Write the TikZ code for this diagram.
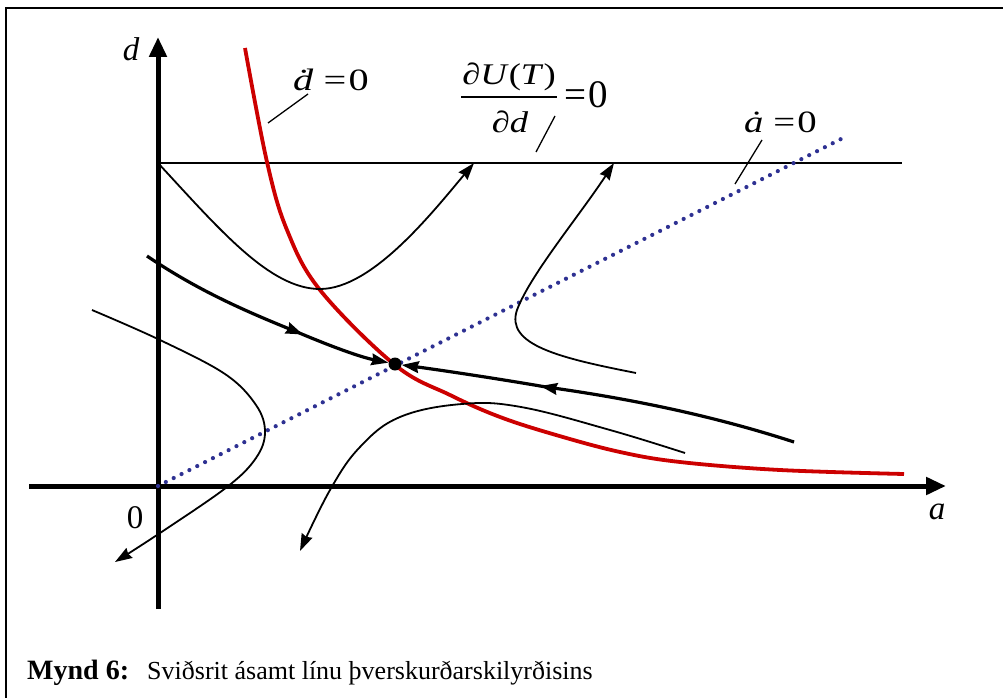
\documentclass[tikz,border=0pt]{standalone}
\usepackage{fontspec}
\setmainfont{Liberation Serif}
\usetikzlibrary{arrows.meta,decorations.markings}
\definecolor{redc}{RGB}{204,0,0}
\definecolor{bluec}{RGB}{46,49,146}
\tikzset{
  tiph/.tip={Stealth[length=17pt,width=11.5pt,inset=1.5pt]},
  midarrow/.style={postaction={decorate}, decoration={markings, mark=at position #1 with {\arrow{tiph}}}}
}
\begin{document}
\begin{tikzpicture}[x=1pt,y=-1pt,
  thinc/.style={line width=1.8pt},
  thickc/.style={line width=3.2pt},
  axis/.style={line width=5pt,-{Triangle[length=20pt,width=17pt]}},
  tip/.style={-tiph},
  lab/.style={font=\fontsize{31}{36}\selectfont, inner sep=0pt},
  flab/.style={font=\fontsize{30}{36}\selectfont, inner sep=0pt},
  lead/.style={line width=1.3pt}]
\useasboundingbox (0,0) rectangle (1003,698);
% frame
\draw[line width=2pt] (6,698) -- (6,8) -- (1003,8);
% axes
\coordinate (O) at (158,486);
\coordinate (xs) at (29,486);
\coordinate (xe) at (946,486);
\coordinate (ys) at (158,609);
\coordinate (ye) at (158,37);
\draw[axis] (xs) -- (xe);
\draw[axis] (ys) -- (ye);
\node[lab, font=\fontsize{33}{36}\selectfont\itshape] (dl) at (131,49) {d};
\node[lab, font=\fontsize{33}{36}\selectfont\itshape] (al) at (937,512) {a};
\node[lab, font=\fontsize{33}{36}\selectfont] (zl) at (135,518) {0};
% horizontal line
\coordinate (h1) at (158,163);
\coordinate (h2) at (902,163);
\draw[thinc] (h1) -- (h2);
% red curve
\draw[redc, line width=3.8pt] plot[smooth, tension=0.6] coordinates {(245,48) (267,162) (287,230) (320,290) (395,365) (450,395) (500,417) (556,435) (620,452) (680,462) (780,470) (904,474)};
% dotted line
\coordinate (de) at (841,139);
\draw[bluec, line width=4.2pt, line cap=round, dash pattern=on 0pt off 8.8pt] (O) -- (de);
% equilibrium
\node[circle, fill=black, inner sep=0pt, minimum size=13pt] (eq) at (395,364) {};
% trajectories
\coordinate (t1e) at (474,163);
\draw[thinc, tip] (h1) .. controls (220,230) and (270,289) .. (320,289) .. controls (372,289) and (432,213) .. (t1e);
\coordinate (t2s) at (636,373);
\coordinate (t2e) at (614,163);
\draw[thinc, tip] (t2s) .. controls (560,358) and (505,345) .. (517,310) .. controls (530,275) and (580,215) .. (t2e);
\coordinate (s1) at (147,256);
\draw[thickc, tip, midarrow=0.66] (s1) .. controls (200,292) and (250,313) .. (297,332) .. controls (330,346) and (360,357) .. (eq);
\coordinate (s2) at (794,442);
\draw[thickc, tip, midarrow=0.65] (s2) .. controls (720,418) and (640,400) .. (546,387) .. controls (500,379) and (440,370) .. (eq);
\coordinate (t5s) at (685,453);
\coordinate (t5e) at (300,551);
\draw[thinc, tip] plot[smooth, tension=0.65] coordinates {(t5s) (610,430) (521,407) (462,404) (400,417) (360,447) (330,490) (t5e)};
\coordinate (t6s) at (92,310);
\coordinate (t6e) at (115,562);
\draw[thinc, tip] plot[smooth, tension=0.6] coordinates {(t6s) (160,340) (225,374) (256,405) (265,432) (256,458) (227,487) (160,533) (t6e)};
% labels
\node[lab, anchor=base west] (ld) at (293,90.5) {\scalebox{1.3}[1]{\textit{ḋ}\hspace{0.25em}=\hspace{0.06em}0}};
\draw[lead] (268,123) -- (308,94);
\node[flab, anchor=base] (num) at (509,85) {\scalebox{1.22}[1]{∂\textit{U}(\textit{T})}};
\node[flab, anchor=base] (den) at (510,132) {\scalebox{1.22}[1]{∂\textit{d}}};
\draw[line width=1.5pt] (461,97) -- (557,97);
\node[anchor=base west, inner sep=0pt, font=\fontsize{39}{44}\selectfont] (feq) at (564,107) {=\kern2pt0};
\draw[lead] (536,152) -- (555,116);
\node[lab, anchor=base west] (la) at (744,132) {\scalebox{1.25}[1]{\textit{ȧ}\hspace{0.25em}=\hspace{0.06em}0}};
\draw[lead] (735,184) -- (762,140);
% caption
\node[anchor=base west, inner sep=0pt, font=\fontsize{28}{30}\selectfont\bfseries] (capb) at (27,679) {Mynd 6:};
\node[anchor=base west, inner sep=0pt, font=\fontsize{26}{30}\selectfont] (cap) at (147,679) {Sviðsrit ásamt línu þverskurðarskilyrðisins};
\end{tikzpicture}
\end{document}
